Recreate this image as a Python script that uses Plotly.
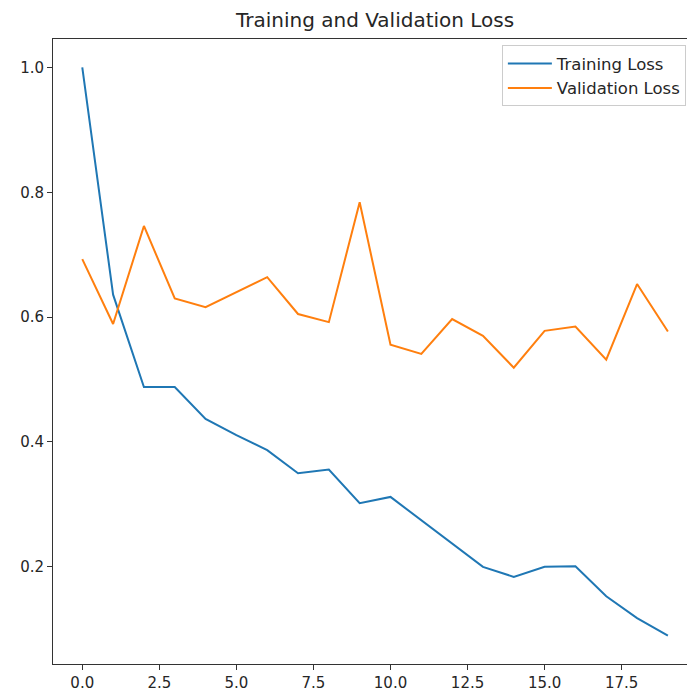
import plotly.graph_objects as go

epochs = list(range(20))
training_loss = [1.0, 0.636, 0.488, 0.488, 0.437, 0.411, 0.387, 0.350, 0.356, 0.302,
                 0.312, 0.275, 0.238, 0.200, 0.184, 0.200, 0.201, 0.153, 0.118, 0.0898]
validation_loss = [0.693, 0.589, 0.746, 0.630, 0.616, 0.640, 0.664, 0.605, 0.592, 0.784,
                   0.556, 0.541, 0.597, 0.570, 0.519, 0.578, 0.585, 0.532, 0.653, 0.577]
x_ticks = [0, 2.5, 5, 7.5, 10, 12.5, 15, 17.5]
y_ticks = [0.2, 0.4, 0.6, 0.8, 1.0]

FONT = "DejaVu Sans"
TXT = "#262626"

fig = go.Figure()
fig.add_trace(go.Scatter(x=epochs, y=training_loss, mode="lines", name="Training Loss",
                         line=dict(color="#1f77b4", width=2), legendgroup="a"))
fig.add_trace(go.Scatter(x=epochs, y=validation_loss, mode="lines", name="Validation Loss",
                         line=dict(color="#ff7f0e", width=2), legendgroup="b"))

fig.update_layout(
    width=687, height=693,
    margin=dict(l=53, r=0, t=39, b=29, autoexpand=False),
    paper_bgcolor="white", plot_bgcolor="white",
    font=dict(family=FONT, size=15, color=TXT),
    title=dict(text="Training and Validation Loss", x=0.508, xref="paper",
               xanchor="center", y=1 - 20 / 693, yref="container", yanchor="middle",
               font=dict(family=FONT, size=20, color=TXT)),
    legend=dict(x=0.708, xanchor="left", y=0.99, yanchor="top",
                bordercolor="#cccccc", borderwidth=1, bgcolor="rgba(255,255,255,0.8)",
                font=dict(family=FONT, size=16.5, color=TXT),
                traceorder="grouped", tracegroupgap=0, itemwidth=44),
    showlegend=True,
)
fig.update_xaxes(range=[-0.95, 19.62], tickvals=x_ticks, tickformat=".1f",
                 showgrid=False, zeroline=False, showline=True, linecolor="#333333",
                 linewidth=1, mirror=True, ticks="outside", ticklen=5, tickcolor="#333333",
                 automargin=False,
                 tickfont=dict(family=FONT, size=15, color=TXT))
fig.update_yaxes(range=[0.0444, 1.0455], tickvals=y_ticks, tickformat=".1f",
                 showgrid=False, zeroline=False, showline=True, linecolor="#333333",
                 linewidth=1, mirror=False, ticks="outside", ticklen=5, tickcolor="#333333",
                 automargin=False,
                 tickfont=dict(family=FONT, size=15, color=TXT))

fig.write_html("out.html", config={"displayModeBar": False},
               post_script="document.body.style.margin='0';document.body.style.overflow='hidden';")
